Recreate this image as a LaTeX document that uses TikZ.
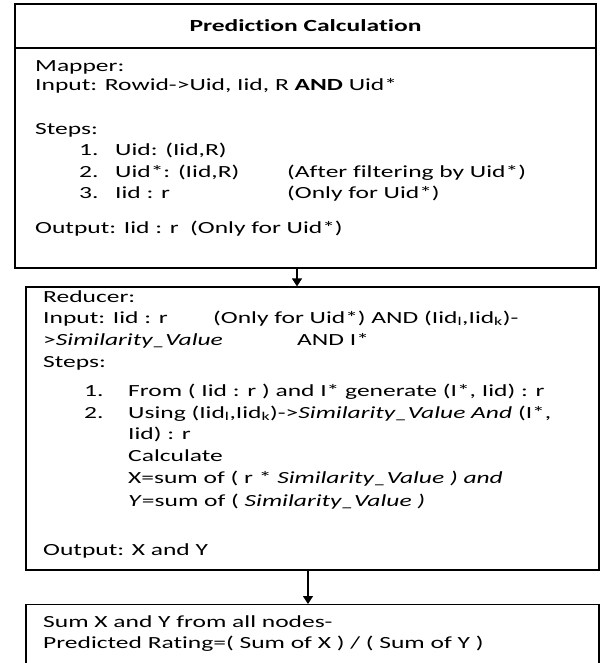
\documentclass[tikz,border=0pt]{standalone}
\usepackage{fontspec}
\setmainfont[FakeStretch=1.5,Ligatures=NoCommon]{Carlito}
\usetikzlibrary{positioning,calc,arrows.meta}
\newcommand{\fs}{\fontsize{17}{21}\selectfont}
\newcommand{\ltext}[4]{
  \node[txt] (#4) at (#1,#2) {#3};
}
\newcommand{\sub}[1]{\textsubscript{#1}}

\begin{document}
\begin{tikzpicture}[x=1pt,y=-1pt,>={Triangle[length=8pt,width=10pt]},
  box/.style={draw,line width=1.2pt,inner sep=0pt},
  txt/.style={anchor=west,inner sep=0pt,text height=12pt,text depth=4pt,font=\fs}]
  \useasboundingbox (0,0) rectangle (600,663);
  \clip (0,0) rectangle (600,663);

  % mapper
  \node[box,minimum width=581pt,minimum height=44pt,font=\fs\bfseries] (title) at (305.5,26) {Prediction Calculation};
  \node[box,minimum width=581pt,minimum height=220pt] (map) at (305.5,158) {};
  \ltext{35}{68}{Mapper:}{m1}
  \ltext{35}{87}{Input: Rowid->Uid, Iid, R \textbf{AND} Uid*}{m2}
  \ltext{35}{131}{Steps:}{m3}
  \ltext{79}{152}{1.}{m4}
  \ltext{115}{152}{Uid: (Iid,R)}{m5}
  \ltext{79}{173}{2.}{m6}
  \ltext{115}{173}{Uid*: (Iid,R)}{m7}
  \ltext{287}{173}{(After filtering by Uid*)}{m8}
  \ltext{79}{194}{3.}{m9}
  \ltext{115}{194}{Iid : r}{m10}
  \ltext{287}{194}{(Only for Uid*)}{m11}
  \ltext{35}{229}{Output: Iid : r}{m12}
  \ltext{190}{229}{(Only for Uid*)}{m13}

  % reducer
  \node[box,minimum width=573pt,minimum height=283pt] (red) at (312.5,428.5) {};
  \ltext{43}{298}{Reducer:}{r1}
  \ltext{43}{319}{Input: Iid : r}{r2}
  \ltext{213}{319}{(Only for Uid*) AND (Iid\sub{l},Iid\sub{k})-}{r3}
  \ltext{43}{341}{>\textit{Similarity\_Value}}{r4}
  \ltext{297}{341}{AND I*}{r5}
  \ltext{43}{363}{Steps:}{r6}
  \ltext{84}{392}{1.}{r7}
  \ltext{128}{392}{From ( Iid : r ) and I* generate (I*, Iid) : r}{r8}
  \ltext{84}{414}{2.}{r9}
  \ltext{128}{414}{Using (Iid\sub{l},Iid\sub{k})->\textit{Similarity\_Value And} (I*,}{r10}
  \ltext{128}{435}{Iid) : r}{r11}
  \ltext{128}{457}{Calculate}{r12}
  \ltext{128}{479}{X=sum of ( r * \textit{Similarity\_Value ) and}}{r13}
  \ltext{128}{502}{\textit{Y}=sum of ( \textit{Similarity\_Value )}}{r14}
  \ltext{43}{551}{Output: X and Y}{r15}

  % final sum
  \node[box,minimum width=573pt,minimum height=80pt,anchor=north] (fin) at (312.5,604) {};
  \ltext{43}{623}{Sum X and Y from all nodes-}{f1}
  \ltext{43}{644}{Predicted Rating=( Sum of X ) / ( Sum of Y )}{f2}

  \coordinate (a1) at (297,0);
  \coordinate (a2) at (308,0);
  \draw[->,line width=1.2pt] (map.south -| a1) -- (red.north -| a1);
  \draw[->,line width=1.2pt] (red.south -| a2) -- (fin.north -| a2);
\end{tikzpicture}
\end{document}
